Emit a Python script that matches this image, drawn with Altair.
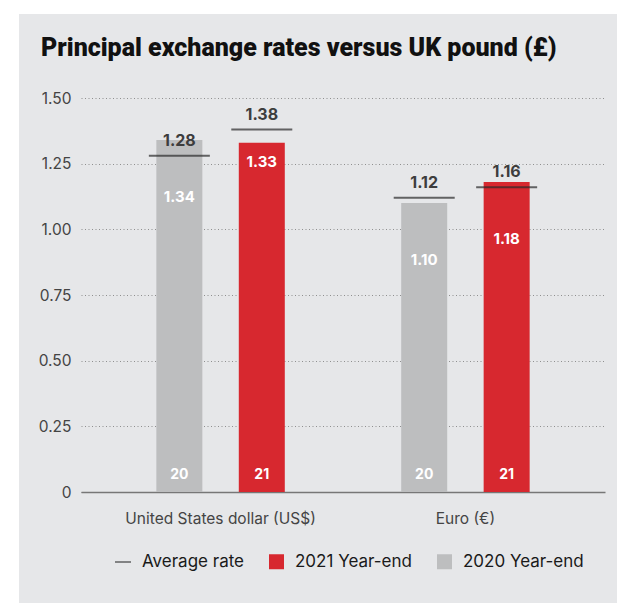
import altair as alt
import pandas as pd

currencies = ["United States dollar (US$)", "Euro (€)"]
years = ["2020", "2021"]
series_names = ["2020 Year-end", "2021 Year-end"]
year_short = ["20", "21"]
year_end_2020 = [1.34, 1.10]
year_end_2021 = [1.33, 1.18]
average_2020 = [1.28, 1.12]
average_2021 = [1.38, 1.16]

bar_legend_domain = ["2021 Year-end", "2020 Year-end"]
bar_legend_colors = ["#d7282f", "#bdbebf"]
avg_color = "#2a2a2a"
PANEL = "#e6e7e9"

rows = []
for i, c in enumerate(currencies):
    for yr, s, short, ye, av in zip(years, series_names, year_short,
                                    [year_end_2020[i], year_end_2021[i]],
                                    [average_2020[i], average_2021[i]]):
        rows.append({"currency": c, "year": yr, "series": s, "short": short,
                     "value": ye, "avg": av, "avg_series": "Average rate"})
df = pd.DataFrame(rows)

FONT = "Inter"
TFONT = "Roboto"

x_enc = alt.X("currency:N", sort=currencies,
              scale=alt.Scale(paddingInner=0, paddingOuter=0.07),
              axis=alt.Axis(title=None, labelAngle=0, ticks=False, domain=True,
                            domainColor="#777777", domainWidth=1.5, labelLimit=400,
                            labelPadding=19, labelFontSize=15.5, labelColor="#444444",
                            labelFont=FONT, grid=False, labelBaseline="top"))
xo_enc = alt.XOffset("year:N", sort=years,
                     scale=alt.Scale(paddingInner=0.442, paddingOuter=0.706))
y_scale = alt.Scale(domain=[0, 1.5], nice=False)
y_axis = alt.Axis(title=None, values=[0, 0.25, 0.5, 0.75, 1.0, 1.25, 1.5],
                  labelExpr="datum.value == 0 ? '0' : format(datum.value, '.2f')",
                  ticks=False, domain=False, grid=True, gridDash=[1, 2.5],
                  gridColor="#8f8f8f", gridWidth=1, labelPadding=10,
                  labelFontSize=15.5, labelColor="#444444", labelFont=FONT)

common_legend = dict(title=None, orient="none", direction="horizontal",
                     labelFontSize=17, labelFont=FONT, labelColor="#1a1a1a",
                     labelOffset=10, columnPadding=24)

bar_legend = alt.Legend(legendX=187, legendY=455, symbolSize=225, symbolType="square",
                        **common_legend)
avg_legend = alt.Legend(legendX=33, legendY=455, symbolSize=256, symbolType="stroke",
                        symbolStrokeColor=avg_color, symbolStrokeWidth=1.5,
                        **common_legend)

one = alt.Data(values=[{"p": 1}])
strip_left = alt.Chart(one).mark_rect(color="white").encode(
    x=alt.value(-81), x2=alt.value(-62), y=alt.value(-98), y2=alt.value(505))
strip_top = alt.Chart(one).mark_rect(color="white").encode(
    x=alt.value(-81), x2=alt.value(536), y=alt.value(-98), y2=alt.value(-84))

base = alt.Chart(df)

bars = base.mark_bar().encode(
    x=x_enc, xOffset=xo_enc,
    y=alt.Y("value:Q", scale=y_scale, axis=y_axis),
    color=alt.Color("series:N", scale=alt.Scale(domain=bar_legend_domain, range=bar_legend_colors),
                    legend=bar_legend))

ticks = base.mark_tick(size=61, thickness=2).encode(
    x=x_enc, xOffset=xo_enc,
    y=alt.Y("avg:Q", scale=y_scale),
    color=alt.Color("avg_series:N", scale=alt.Scale(domain=["Average rate"], range=[avg_color]),
                    legend=avg_legend))

avg_labels = base.mark_text(baseline="bottom", dy=-7, fontSize=16, fontWeight="bold",
                            font=FONT, color="#3d3d3d").encode(
    x=x_enc, xOffset=xo_enc, y=alt.Y("avg:Q", scale=y_scale),
    text=alt.Text("avg:Q", format=".2f"))

special = "datum.currency == 'United States dollar (US$)' && datum.year == '2021'"
val_labels = base.transform_filter("!(" + special + ")").mark_text(
    baseline="middle", dy=57, fontSize=15, fontWeight="bold", font=FONT, color="white").encode(
    x=x_enc, xOffset=xo_enc, y=alt.Y("value:Q", scale=y_scale),
    text=alt.Text("value:Q", format=".2f"))
val_labels2 = base.transform_filter(special).mark_text(
    baseline="middle", dy=19, fontSize=15, fontWeight="bold", font=FONT, color="white").encode(
    x=x_enc, xOffset=xo_enc, y=alt.Y("value:Q", scale=y_scale),
    text=alt.Text("value:Q", format=".2f"))

year_labels = base.transform_calculate(zero="0").mark_text(
    baseline="middle", dy=-17, fontSize=14, fontWeight="bold", font=FONT, color="white").encode(
    x=x_enc, xOffset=xo_enc, y=alt.Y("zero:Q", scale=y_scale),
    text="short:N")

chart = alt.layer(strip_left, strip_top, bars, ticks, avg_labels, val_labels, val_labels2,
                  year_labels).resolve_scale(
    color="independent"
).properties(
    width=524, height=394,
    autosize=alt.AutoSizeParams(type="none"),
    padding={"left": 81, "top": 98, "right": 12, "bottom": 111},
    background=PANEL,
    title=alt.TitleParams("Principal exchange rates versus UK pound (£)", anchor="start",
                          dx=41, offset=-81, baseline="alphabetic", fontSize=25,
                          font=TFONT, fontWeight=900, color="#111111"),
).configure_view(stroke=None)

chart.save("out.html", embed_options={"renderer": "svg", "actions": False})
